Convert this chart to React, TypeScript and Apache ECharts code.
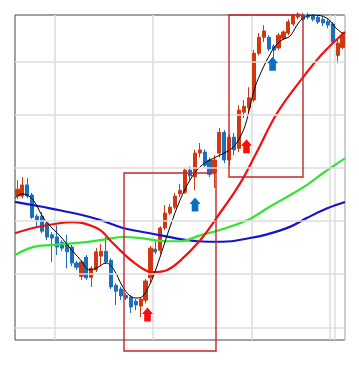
import React, { useEffect, useRef } from "react";
import * as echarts from "echarts";

// [open, close, low, high]
const candles: number[][] = [
  [1247, 1260, 1241, 1277],
  [1247, 1268, 1243, 1283],
  [1268, 1247, 1243, 1281],
  [1249, 1207, 1204, 1253],
  [1209, 1202, 1187, 1213],
  [1209, 1181, 1177, 1217],
  [1196, 1170, 1164, 1200],
  [1174, 1168, 1123, 1179],
  [1170, 1151, 1136, 1192],
  [1160, 1149, 1143, 1164],
  [1158, 1142, 1111, 1174],
  [1151, 1121, 1115, 1155],
  [1121, 1113, 1108, 1125],
  [1096, 1123, 1089, 1126],
  [1132, 1093, 1089, 1136],
  [1094, 1111, 1076, 1115],
  [1108, 1142, 1104, 1149],
  [1134, 1143, 1115, 1157],
  [1143, 1123, 1119, 1170],
  [1126, 1076, 1072, 1130],
  [1079, 1068, 1042, 1083],
  [1072, 1059, 1051, 1076],
  [1060, 1055, 1051, 1064],
  [1057, 1038, 1027, 1060],
  [1049, 1042, 1032, 1053],
  [1040, 1053, 1019, 1057],
  [1051, 1087, 1045, 1091],
  [1093, 1149, 1083, 1153],
  [1147, 1142, 1138, 1164],
  [1145, 1187, 1138, 1190],
  [1187, 1215, 1183, 1230],
  [1215, 1226, 1211, 1232],
  [1226, 1247, 1222, 1253],
  [1251, 1258, 1245, 1270],
  [1254, 1296, 1251, 1300],
  [1296, 1285, 1277, 1303],
  [1283, 1328, 1258, 1334],
  [1328, 1334, 1320, 1347],
  [1330, 1305, 1301, 1335],
  [1315, 1288, 1283, 1320],
  [1292, 1315, 1262, 1324],
  [1328, 1367, 1320, 1375],
  [1367, 1315, 1309, 1371],
  [1315, 1358, 1305, 1364],
  [1358, 1334, 1324, 1366],
  [1337, 1409, 1330, 1418],
  [1405, 1416, 1394, 1428],
  [1413, 1432, 1405, 1452],
  [1428, 1516, 1424, 1522],
  [1516, 1546, 1512, 1554],
  [1546, 1558, 1537, 1569],
  [1546, 1524, 1520, 1550],
  [1529, 1522, 1507, 1533],
  [1526, 1550, 1522, 1554],
  [1544, 1556, 1541, 1559],
  [1554, 1575, 1550, 1580],
  [1571, 1588, 1567, 1590],
  [1584, 1590, 1580, 1593],
  [1588, 1580, 1576, 1592],
  [1588, 1584, 1580, 1592],
  [1588, 1580, 1576, 1590],
  [1584, 1575, 1571, 1588],
  [1580, 1573, 1567, 1584],
  [1576, 1569, 1563, 1580],
  [1571, 1537, 1533, 1575],
  [1512, 1535, 1497, 1541],
  [1527, 1550, 1524, 1556],
];
const categories = candles.map((_, i) => `D${i + 1}`);

// moving averages, [day index, price]
const maShort: number[][] = [
  [-0.5, 1243], [0.92, 1251], [2.34, 1247], [3.6, 1234], [5.19, 1207], [7.01, 1187],
  [8.64, 1172], [10.67, 1149], [12.7, 1128], [14.7, 1108], [16.35, 1113], [17.98, 1121],
  [19.6, 1108], [21.2, 1079], [22.85, 1059], [24.27, 1055], [25.5, 1059], [26.5, 1074],
  [27.5, 1094], [28.94, 1132], [30.97, 1189], [33.0, 1239], [35.03, 1277], [37.06, 1302],
  [39.1, 1315], [41.1, 1324], [42.75, 1332], [43.97, 1341], [45.19, 1358], [46.2, 1379],
  [47.2, 1415], [48.23, 1452], [49.65, 1484], [50.87, 1507], [52.3, 1529], [53.7, 1541],
  [55.3, 1548], [56.76, 1569], [57.98, 1582], [60.0, 1588], [62.85, 1582], [64.5, 1565],
  [65.9, 1554], [66.5, 1552],
];
const maMid: number[][] = [
  [-0.5, 1177], [3.16, 1187], [7.2, 1194], [11.1, 1198], [13.3, 1196], [16.8, 1183],
  [18.8, 1164], [21.4, 1140], [23.5, 1123], [26.3, 1106], [27.5, 1104], [30.4, 1108],
  [33.0, 1125], [37.1, 1164], [40.5, 1207], [45.2, 1271], [48.6, 1330], [52.7, 1403],
  [58.0, 1471], [62.0, 1516], [66.5, 1556],
];
const maLong: number[][] = [
  [-0.5, 1136], [3.16, 1151], [7.2, 1155], [13.3, 1160], [18.2, 1166], [21.4, 1170],
  [24.9, 1168], [30.4, 1162], [33.0, 1162], [37.1, 1173], [41.7, 1185], [47.2, 1204],
  [50.7, 1224], [55.4, 1249], [58.8, 1268], [62.0, 1290], [66.5, 1318],
];
const maLonger: number[][] = [
  [-0.5, 1236], [3.16, 1230], [6.6, 1224], [13.3, 1211], [16.8, 1202], [21.4, 1187],
  [26.9, 1177], [33.0, 1166], [36.5, 1162], [41.7, 1161], [47.2, 1168], [50.7, 1175],
  [55.3, 1189], [58.8, 1206], [62.9, 1224], [66.5, 1236],
];

const priceMin = 976;
const priceMax = 1588;
const gridLevels = [1000, 1100, 1200, 1300, 1400, 1500];
const monthStarts = [8, 28, 48, 64, 65];

// [day index, price, colour key]
const arrows: [number, number, string][] = [
  [26.4, 1024, "buy"],
  [36.05, 1231, "hold"],
  [46.5, 1341, "buy"],
  [51.8, 1496, "hold"],
];
// [day from, price top, day to, price bottom]
const boxes: number[][] = [
  [21.63, 1290, 40.31, 955],
  [42.95, 1588, 57.97, 1283],
];

const UP = "#d3370f";
const DOWN = "#1e6ec0";
const ARROW_COLORS: Record<string, string> = { buy: "#ff0a0a", hold: "#0a6fc2" };
const ARROW_PATH = "path://M6,0L12,6.5L9.6,6.5L9.6,14L2.4,14L2.4,6.5L0,6.5Z";

export default function App() {
  const ref = useRef<HTMLDivElement>(null);
  useEffect(() => {
    if (!ref.current) return;
    const chart = echarts.init(ref.current, undefined, { renderer: "svg" });
    const option: any = {
      animation: false,
      backgroundColor: "#ffffff",
      grid: {
        left: 15,
        right: 14,
        top: 15,
        bottom: 29,
        show: true,
        borderColor: "#444444",
        borderWidth: 1,
        backgroundColor: "#ffffff",
      },
      xAxis: [
        {
          type: "category",
          data: categories,
          boundaryGap: true,
          axisLine: { show: false },
          axisTick: { show: false },
          axisLabel: { show: false },
          splitLine: {
            show: true,
            interval: (i: number) => monthStarts.includes(i),
            lineStyle: { color: "#dcdcdc", width: 1.5 },
          },
        },
        {
          type: "value",
          min: -0.5,
          max: candles.length - 0.5,
          show: false,
          splitLine: { show: false },
        },
      ],
      yAxis: {
        type: "value",
        min: priceMin,
        max: priceMax,
        axisLine: { show: false },
        axisTick: { show: false },
        axisLabel: { show: false },
        splitLine: { show: false },
      },
      series: [
        {
          name: "grid",
          type: "line",
          xAxisIndex: 1,
          yAxisIndex: 0,
          data: [],
          z: 1,
          silent: true,
          markLine: {
            silent: true,
            symbol: ["none", "none"],
            label: { show: false },
            lineStyle: { color: "#dcdcdc", width: 1.5, type: "solid" },
            data: gridLevels.map((v) => ({ yAxis: v })),
          },
        },
        {
          name: "price",
          type: "candlestick",
          data: candles,
          barWidth: "74%",
          z: 2,
          itemStyle: {
            color: UP,
            color0: DOWN,
            borderColor: UP,
            borderColor0: DOWN,
            borderWidth: 1,
          },
        },
        {
          name: "MA long",
          type: "line",
          xAxisIndex: 1,
          data: maLonger,
          smooth: 0.4,
          showSymbol: false,
          z: 3,
          lineStyle: { color: "#1414cf", width: 2.2 },
        },
        {
          name: "MA 75",
          type: "line",
          xAxisIndex: 1,
          data: maLong,
          smooth: 0.4,
          showSymbol: false,
          z: 3,
          lineStyle: { color: "#33e433", width: 2.2 },
        },
        {
          name: "MA 25",
          type: "line",
          xAxisIndex: 1,
          data: maMid,
          smooth: 0.4,
          showSymbol: false,
          z: 3,
          lineStyle: { color: "#f01010", width: 2.2 },
        },
        {
          name: "MA 5",
          type: "line",
          xAxisIndex: 1,
          data: maShort,
          smooth: 0.4,
          showSymbol: false,
          z: 4,
          lineStyle: { color: "#000000", width: 1 },
        },
        {
          name: "signals",
          type: "line",
          xAxisIndex: 1,
          yAxisIndex: 0,
          data: [],
          z: 6,
          silent: true,
          markPoint: {
            silent: true,
            symbol: ARROW_PATH,
            symbolSize: [11, 14],
            label: { show: false },
            data: arrows.map(([x, y, k]) => ({
              coord: [x, y],
              itemStyle: { color: ARROW_COLORS[k] },
            })),
          },
        },
      ],
    };
    chart.setOption(option);
    const rects = boxes.map(([x0, y0, x1, y1]) => {
      const p0 = chart.convertToPixel({ seriesIndex: 6 }, [x0, y0]) as number[];
      const p1 = chart.convertToPixel({ seriesIndex: 6 }, [x1, y1]) as number[];
      const ax = Math.round(p0[0]);
      const ay = Math.round(p0[1]);
      return {
        type: "rect",
        silent: true,
        z: 20,
        shape: {
          x: ax,
          y: ay,
          width: Math.round(p1[0]) - ax,
          height: Math.round(p1[1]) - ay,
        },
        style: { fill: "transparent", stroke: "#c4262b", lineWidth: 1.4 },
      };
    });
    chart.setOption({ graphic: rects });
    return () => chart.dispose();
  }, []);
  return (
    <div
      ref={ref}
      style={{ position: "absolute", left: 0, top: 0, width: 359, height: 369 }}
    />
  );
}
